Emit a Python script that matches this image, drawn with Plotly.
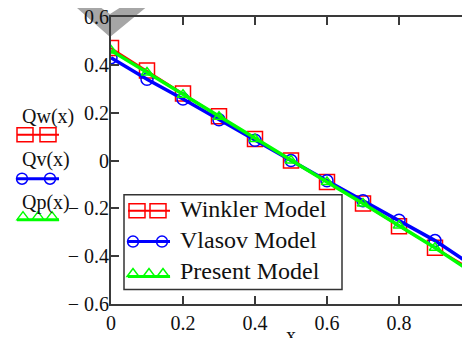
import plotly.graph_objects as go

# ---- data ----
x_vals = [0.0, 0.1, 0.2, 0.3, 0.4, 0.5, 0.6, 0.7, 0.8, 0.9, 1.0]
winkler = [0.47, 0.376, 0.28, 0.185, 0.09, 0.0, -0.09, -0.18, -0.275, -0.365, -0.455]
vlasov = [0.43, 0.34, 0.257, 0.17, 0.085, 0.0, -0.085, -0.168, -0.25, -0.335, -0.435]
present = [0.46, 0.368, 0.275, 0.183, 0.09, 0.0, -0.09, -0.18, -0.272, -0.365, -0.465]

series_names = ["Winkler Model", "Vlasov Model", "Present Model"]
side_labels = ["Qw(x)", "Qv(x)", "Qp(x)"]

y_tickvals = [0.6, 0.4, 0.2, 0, -0.2, -0.4, -0.6]
y_ticktext = ["0.6", "0.4", "0.2", "0", "\u2212 0.2", "\u2212 0.4", "\u2212 0.6"]
x_tickvals = [0, 0.2, 0.4, 0.6, 0.8]
x_ticktext = ["0", "0.2", "0.4", "0.6", "0.8"]

# ---- layout geometry (page body has an 8px margin) ----
OFF = 8
W, H = 470 - OFF, 338 - OFF
ML, MT = 111 - OFF, 17 - OFF
PB = 304.5 - OFF
MB = H - PB
MR = 0
PW, PH = W - ML - MR, PB - MT
FONT = "Liberation Serif"
AXC = "#3a3a3a"
TXT = "#111111"
COLORS = ["#ff0000", "#0000ff", "#00ff00"]


def px(xp):
    return (xp - OFF - ML) / PW


def py(yp):
    return (PB - (yp - OFF)) / PH


fig = go.Figure()
fig.add_trace(go.Scatter(
    x=x_vals, y=winkler, name=series_names[0], mode="lines+markers",
    line=dict(color=COLORS[0], width=2),
    marker=dict(symbol="square-open", size=15, color=COLORS[0], line=dict(width=1.5, color=COLORS[0]))))
fig.add_trace(go.Scatter(
    x=x_vals, y=vlasov, name=series_names[1], mode="lines+markers",
    line=dict(color=COLORS[1], width=3.5),
    marker=dict(symbol="circle-open", size=12, color=COLORS[1], line=dict(width=1.5, color=COLORS[1]))))
fig.add_trace(go.Scatter(
    x=x_vals, y=present, name=series_names[2], mode="lines+markers",
    line=dict(color=COLORS[2], width=3.5),
    marker=dict(symbol="triangle-up-open", size=10, color=COLORS[2], line=dict(width=1.5, color=COLORS[2]))))

shapes = []
annotations = []


def glyph(kind, x0, x1, yc, centers):
    """Legend-style sample: a line with a few open markers (decoration, pixel coords)."""
    col = COLORS[kind]
    shapes.append(dict(type="line", xref="paper", yref="paper", x0=px(x0), x1=px(x1),
                       y0=py(yc), y1=py(yc), line=dict(color=col, width=2 if kind == 0 else 3)))
    for cx in centers:
        if kind == 0:
            shapes.append(dict(type="rect", xref="paper", yref="paper", x0=px(cx - 8), x1=px(cx + 8),
                               y0=py(yc - 7), y1=py(yc + 7), line=dict(color=col, width=1.5)))
        elif kind == 1:
            shapes.append(dict(type="circle", xref="paper", yref="paper", x0=px(cx - 5.5), x1=px(cx + 5.5),
                               y0=py(yc - 5.5), y1=py(yc + 5.5), line=dict(color=col, width=1.5)))
        else:
            pts = [(cx - 6, yc), (cx, yc - 8), (cx + 6, yc)]
            path = "M " + " L ".join("{} {}".format(px(a), py(b)) for a, b in pts) + " Z"
            shapes.append(dict(type="path", xref="paper", yref="paper", path=path,
                               line=dict(color=col, width=1.5)))


# left side labels with glyphs
label_y = [117, 160, 203]
glyph_y = [135, 179, 220]
glyph_centers = [[25, 48], [22, 50], [23, 38, 52]]
for i, lab in enumerate(side_labels):
    annotations.append(dict(text=lab, xref="paper", yref="paper", x=px(20), y=py(label_y[i]),
                            xanchor="left", yanchor="middle", showarrow=False,
                            font=dict(family=FONT, size=20, color=TXT)))
    glyph(i, 17, 59, glyph_y[i], glyph_centers[i])

# legend box (drawn by hand to match the original spacing)
shapes.append(dict(type="rect", xref="paper", yref="paper", x0=px(124), x1=px(342),
                   y0=py(290), y1=py(195), fillcolor="white", line=dict(color="#333333", width=1.5)))
leg_y = [211, 242, 277]
leg_txt_y = [209, 240, 271]
leg_centers = [[137, 158], [133, 162], [133, 149, 163]]
for i, name in enumerate(series_names):
    glyph(i, 128, 170, leg_y[i], leg_centers[i])
    annotations.append(dict(text=name, xref="paper", yref="paper", x=px(178), y=py(leg_txt_y[i]),
                            xanchor="left", yanchor="middle", showarrow=False,
                            font=dict(family=FONT, size=24, color=TXT)))

# grey watermark stroke at top-left
wm = [(68, 0), (110, 37), (155, 0), (132, 0), (110, 14), (90, 0)]
wm_path = "M " + " L ".join("{} {}".format(px(a), py(b)) for a, b in wm) + " Z"
shapes.append(dict(type="path", xref="paper", yref="paper", path=wm_path, layer="below",
                   fillcolor="#a6a6a6", line=dict(width=0)))

# x axis title (mostly cropped)
annotations.append(dict(text="x", xref="paper", yref="paper", x=0.5, y=0, yshift=-18,
                        xanchor="center", yanchor="top", showarrow=False,
                        font=dict(family=FONT, size=20, color=TXT)))

axis_common = dict(showline=True, linecolor=AXC, linewidth=2, mirror="ticks", ticks="inside",
                   ticklen=8, tickwidth=2, tickcolor=AXC, showgrid=False, zeroline=False,
                   ticklabeloverflow="allow",
                   tickfont=dict(family=FONT, size=20, color=TXT), automargin=False)

fig.update_layout(
    width=W, height=H,
    margin=dict(l=ML, r=MR, t=MT, b=MB, pad=0),
    paper_bgcolor="white", plot_bgcolor="white",
    showlegend=False,
    xaxis=dict(range=[0, PW / 360.0], tickvals=x_tickvals, ticktext=x_ticktext,
               ticklabelstandoff=0, **axis_common),
    yaxis=dict(range=[-0.6, 0.6], tickvals=y_tickvals, ticktext=y_ticktext,
               ticklabelstandoff=-4, **axis_common),
    shapes=shapes, annotations=annotations,
)

fig.write_html("out.html")
